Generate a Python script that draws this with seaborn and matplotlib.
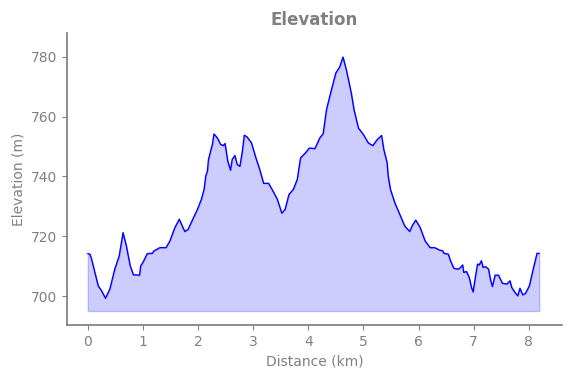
import numpy as np
import pandas as pd
import matplotlib
matplotlib.use("Agg")
import matplotlib.pyplot as plt
import seaborn as sns

distance_km = [0.0, 0.04, 0.07, 0.13, 0.19, 0.25, 0.32, 0.40, 0.49, 0.57, 0.64, 0.70, 0.77, 0.83,
               0.94, 0.96, 1.0, 1.08, 1.17, 1.20, 1.31, 1.42, 1.49, 1.58, 1.66, 1.70, 1.76, 1.82,
               1.91, 1.99, 2.06, 2.11, 2.14, 2.17, 2.19, 2.26, 2.29, 2.35, 2.41, 2.46, 2.49, 2.54,
               2.59, 2.62, 2.67, 2.71, 2.76, 2.80, 2.84, 2.89, 2.97, 3.05, 3.12, 3.19, 3.28, 3.36,
               3.44, 3.52, 3.58, 3.65, 3.73, 3.80, 3.86, 3.94, 4.02, 4.12, 4.21, 4.27, 4.33, 4.42,
               4.50, 4.57, 4.63, 4.69, 4.78, 4.83, 4.91, 5.0, 5.09, 5.17, 5.25, 5.33, 5.37, 5.43,
               5.45, 5.49, 5.57, 5.66, 5.75, 5.84, 5.89, 5.95, 6.03, 6.12, 6.21, 6.29, 6.38, 6.44,
               6.46, 6.54, 6.58, 6.64, 6.72, 6.76, 6.80, 6.82, 6.87, 6.92, 6.96, 6.99, 7.03, 7.07,
               7.10, 7.14, 7.17, 7.22, 7.27, 7.31, 7.34, 7.39, 7.45, 7.52, 7.60, 7.66, 7.69, 7.75,
               7.80, 7.84, 7.89, 7.94, 8.01, 8.08, 8.15, 8.19]
elevation_m = [714.2, 714.0, 712.3, 707.9, 703.4, 701.8, 699.3, 702.3, 709.0, 713.4, 721.2, 716.8,
               710.1, 707.1, 707.0, 710.1, 711.2, 714.2, 714.3, 715.1, 716.2, 716.2, 718.4, 722.9,
               725.7, 724.0, 721.6, 722.3, 725.9, 729.0, 732.3, 735.7, 740.1, 741.8, 745.7, 750.7,
               754.2, 752.9, 750.7, 750.3, 751.0, 745.1, 742.1, 745.7, 747.0, 744.0, 743.4, 747.9,
               753.8, 753.2, 751.2, 746.2, 742.3, 737.7, 737.7, 735.1, 732.3, 727.7, 729.0, 734.0,
               735.7, 739.0, 746.2, 747.7, 749.5, 749.3, 752.9, 754.3, 762.3, 769.0, 774.6, 776.6,
               779.9, 775.7, 767.9, 762.3, 756.2, 754.0, 751.2, 750.3, 752.3, 753.7, 749.0, 744.6,
               740.1, 735.7, 731.2, 727.3, 723.4, 721.6, 723.7, 725.4, 722.9, 718.4, 716.2, 716.2,
               715.4, 715.1, 714.3, 714.0, 711.8, 709.3, 709.0, 709.5, 710.4, 707.9, 708.2, 706.2,
               702.9, 701.4, 706.2, 710.7, 710.4, 711.8, 709.6, 709.8, 709.0, 705.1, 703.2, 707.0,
               707.0, 704.3, 704.0, 705.1, 702.9, 701.2, 700.1, 702.6, 700.4, 700.9, 703.4, 709.0,
               714.3, 714.3]
fill_base = 695

df = pd.DataFrame({"Distance (km)": distance_km, "Elevation (m)": elevation_m})

sns.set_theme(style="ticks")
plt.rcParams['font.family'] = ['DejaVu Sans']
gray = "#808080"

fig = plt.figure(figsize=(5.71, 3.78), dpi=100)
ax = fig.add_axes([0.117, 0.140, 0.867, 0.773])

ax.fill_between(df["Distance (km)"], df["Elevation (m)"], fill_base, color="blue", alpha=0.2)
sns.lineplot(data=df, x="Distance (km)", y="Elevation (m)", color="blue", linewidth=1, ax=ax)

ax.set_xlim(-0.38, 8.6)
ax.set_ylim(690.3, 788)
ax.set_xticks(range(0, 9))
ax.set_yticks([700, 720, 740, 760, 780])
ax.set_title("Elevation", color=gray, fontweight="bold", fontsize=12)
ax.set_xlabel("Distance (km)", color=gray, fontsize=10)
ax.set_ylabel("Elevation (m)", color=gray, fontsize=10)
ax.tick_params(colors=gray, labelsize=10, length=3.5, width=0.8)
for s in ["left", "bottom"]:
    ax.spines[s].set_color(gray)
sns.despine(ax=ax)

fig.savefig("out.png", dpi=100)
